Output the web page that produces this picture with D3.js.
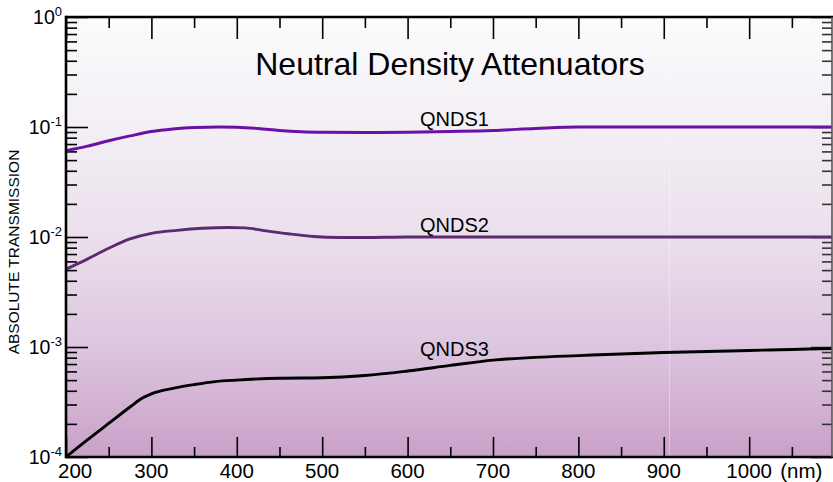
<!DOCTYPE html>
<html>
<head>
<meta charset="utf-8">
<script src="https://cdn.jsdelivr.net/npm/d3@7"></script>
<style>
  html, body { margin: 0; padding: 0; background: #ffffff; }
  svg { display: block; }
  text { font-family: "Liberation Sans", Arial, Helvetica, sans-serif; fill: #000; }
</style>
</head>
<body>
<svg id="chart" width="833" height="482"></svg>
<script>
// ---------- data ----------
const wavelengths1 = [200, 225, 250, 275, 300, 325, 350, 380, 400, 425, 450, 475, 500, 550, 600, 650, 700, 750, 800, 900, 1000, 1097];
const qnds1 = [0.061, 0.067, 0.075, 0.083, 0.091, 0.096, 0.099, 0.1, 0.0995, 0.097, 0.093, 0.0905, 0.0895, 0.089, 0.0895, 0.091, 0.093, 0.097, 0.1, 0.1, 0.1, 0.1];

const wavelengths2 = [200, 225, 250, 275, 300, 330, 360, 390, 410, 430, 460, 490, 520, 550, 600, 700, 800, 900, 1000, 1097];
const qnds2 = [0.0051, 0.0063, 0.0079, 0.0096, 0.0108, 0.0115, 0.012, 0.0122, 0.0121, 0.0115, 0.0107, 0.0101, 0.0099, 0.0099, 0.01, 0.01, 0.01, 0.01, 0.01, 0.01];

const wavelengths3 = [200, 225, 250, 275, 290, 300, 325, 350, 375, 400, 450, 500, 550, 600, 650, 700, 750, 800, 850, 900, 950, 1000, 1050, 1097];
const qnds3 = [0.0001, 0.000143, 0.000202, 0.000285, 0.000345, 0.000375, 0.00042, 0.000455, 0.000485, 0.0005, 0.00052, 0.000525, 0.00055, 0.000605, 0.00068, 0.00076, 0.000805, 0.000835, 0.000865, 0.00089, 0.00091, 0.00093, 0.00095, 0.00097];

const seriesNames = ["QNDS1", "QNDS2", "QNDS3"];
const xMajorTicks = [200, 300, 400, 500, 600, 700, 800, 900, 1000];
const xMinorTicks = [250, 350, 450, 550, 650, 750, 850, 950, 1050];
const xTickLabels = ["200", "300", "400", "500", "600", "700", "800", "900", "1000"];
const yExponents = [0, -1, -2, -3, -4];
const titleText = "Neutral Density Attenuators";
const yAxisTitle = "ABSOLUTE TRANSMISSION";
const xUnit = "(nm)";

// ---------- layout ----------
const svg = d3.select("#chart");
const L = 66, R = 832, T = 17, B = 457;
const x = d3.scaleLinear().domain([200, 1097]).range([L, R]);
const y = d3.scaleLog().domain([1e-4, 1]).range([B, T]);

const yMajor = yExponents.map(e => Math.pow(10, e));
const yMinor = [];
[-4, -3, -2, -1].forEach(e => { for (let k = 2; k <= 9; k++) yMinor.push(k * Math.pow(10, e)); });

// background gradient
const defs = svg.append("defs");
const grad = defs.append("linearGradient").attr("id", "bg").attr("x1", 0).attr("y1", 0).attr("x2", 0).attr("y2", 1);
[[0, "#fbfbfc"], [0.25, "#f3eff5"], [0.5, "#ebdfec"], [0.75, "#ddc5df"], [1, "#c9a0c8"]]
  .forEach(([o, c]) => grad.append("stop").attr("offset", o).attr("stop-color", c));
defs.append("clipPath").attr("id", "clip").append("rect")
  .attr("x", L).attr("y", T).attr("width", R - L).attr("height", B - T);

svg.append("rect").attr("x", L).attr("y", T).attr("width", R - L).attr("height", B - T)
  .attr("fill", "url(#bg)");
// faint vertical light streak
svg.append("line").attr("x1", 669.5).attr("x2", 669.5).attr("y1", T).attr("y2", B)
  .attr("stroke", "#ffffff").attr("stroke-opacity", 0.35).attr("stroke-width", 1);

// ---------- ticks (inward on all four sides) ----------
function tickGroup(axis, transform, color) {
  const g = svg.append("g").attr("transform", transform).call(axis);
  g.select(".domain").remove();
  g.selectAll(".tick line").attr("stroke", color).attr("stroke-width", 1.6);
  g.selectAll(".tick text").remove();
  return g;
}
tickGroup(d3.axisBottom(x).tickValues(xMajorTicks).tickSize(-20), `translate(0,${B})`, "#000");
tickGroup(d3.axisBottom(x).tickValues(xMinorTicks).tickSize(-10), `translate(0,${B})`, "#000");
tickGroup(d3.axisTop(x).tickValues(xMajorTicks).tickSize(-22), `translate(0,${T})`, "#000");
tickGroup(d3.axisTop(x).tickValues(xMinorTicks).tickSize(-11), `translate(0,${T})`, "#000");
tickGroup(d3.axisLeft(y).tickValues(yMajor).tickSize(-22), `translate(${L},0)`, "#000");
tickGroup(d3.axisLeft(y).tickValues(yMinor).tickSize(-11), `translate(${L},0)`, "#000");
tickGroup(d3.axisRight(y).tickValues(yMajor).tickSize(-21), `translate(${R},0)`, "#333");
tickGroup(d3.axisRight(y).tickValues(yMinor).tickSize(-10), `translate(${R},0)`, "#333");

// ---------- curves ----------
const series = [
  { name: seriesNames[0], xs: wavelengths1, ys: qnds1, color: "#6a10a8" },
  { name: seriesNames[1], xs: wavelengths2, ys: qnds2, color: "#5c2a70" },
  { name: seriesNames[2], xs: wavelengths3, ys: qnds3, color: "#000000" }
];
const line = d3.line().x(d => x(d[0])).y(d => y(d[1])).curve(d3.curveMonotoneX);
const curves = svg.append("g").attr("clip-path", "url(#clip)");
series.forEach(s => {
  curves.append("path")
    .datum(s.xs.map((w, i) => [w, s.ys[i]]))
    .attr("d", line).attr("fill", "none")
    .attr("stroke", s.color).attr("stroke-width", 2.9)
    .attr("stroke-linejoin", "round").attr("stroke-linecap", "round");
});

// series labels
const labelPos = [[420, 126], [420, 231.5], [420, 355.5]];
series.forEach((s, i) => {
  svg.append("text").attr("x", labelPos[i][0]).attr("y", labelPos[i][1])
    .attr("font-size", 20).text(s.name);
});

// ---------- frame ----------
svg.append("line").attr("x1", L).attr("x2", L).attr("y1", T - 1.2).attr("y2", B + 1.2).attr("stroke", "#000").attr("stroke-width", 2.6);
svg.append("line").attr("x1", L).attr("x2", R + 1).attr("y1", T).attr("y2", T).attr("stroke", "#000").attr("stroke-width", 2.6);
svg.append("line").attr("x1", L).attr("x2", R + 1).attr("y1", B).attr("y2", B).attr("stroke", "#000").attr("stroke-width", 2.6);
svg.append("line").attr("x1", R).attr("x2", R).attr("y1", T).attr("y2", B).attr("stroke", "#555").attr("stroke-width", 1.6);

// ---------- tick labels ----------
xMajorTicks.forEach((v, i) => {
  const t = svg.append("text").attr("y", 477.5).attr("font-size", 20.5).text(xTickLabels[i]);
  if (i === 0) t.attr("x", 58).attr("text-anchor", "start");
  else t.attr("x", x(v)).attr("text-anchor", "middle");
});
svg.append("text").attr("x", x(1000) + 31).attr("y", 477.5).attr("font-size", 20.5).text(xUnit);

yExponents.forEach(e => {
  const t = svg.append("text").attr("x", 62).attr("y", y(Math.pow(10, e)) + 6.5)
    .attr("text-anchor", "end").attr("font-size", 19.5);
  t.append("tspan").text("10");
  t.append("tspan").attr("font-size", 13).attr("dy", -8).text(String(e));
});

// ---------- titles ----------
svg.append("text").attr("x", 450).attr("y", 75).attr("text-anchor", "middle")
  .attr("font-size", 32).text(titleText);
svg.append("text").attr("transform", `translate(19,252) rotate(-90)`)
  .attr("text-anchor", "middle").attr("font-size", 15.5).text(yAxisTitle);
</script>
</body>
</html>
